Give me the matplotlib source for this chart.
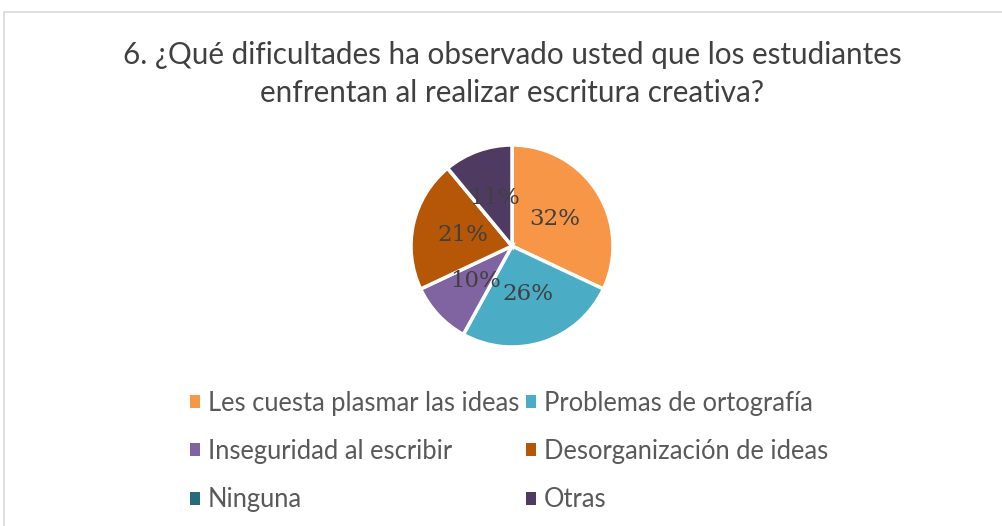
import matplotlib
matplotlib.use("Agg")
import matplotlib.pyplot as plt
from matplotlib.patches import Rectangle, Patch

categories = ["Les cuesta plasmar las ideas", "Problemas de ortografía",
              "Inseguridad al escribir", "Desorganización de ideas",
              "Ninguna", "Otras"]
values = [32, 26, 10, 21, 0, 11]
colors = ["#F79646", "#4BACC6", "#8064A2", "#B65708", "#276A7C", "#4F3B62"]
title = "6. ¿Qué dificultades ha observado usted que los estudiantes\nenfrentan al realizar escritura creativa?"

W, H = 1003, 526
fig = plt.figure(figsize=(W / 100, H / 100), dpi=100)
fig.patch.set_facecolor("white")

# chart border
fig.patches.append(Rectangle((4 / W, -0.1), 1.2, 1 - 12 / H + 0.1,
                             transform=fig.transFigure, fill=False,
                             edgecolor="#D9D9D9", linewidth=1.2))

cx, cy, r = 512, 246, 101
ax = fig.add_axes([(cx - r) / W, (H - cy - r) / H, 2 * r / W, 2 * r / H])

def fmt(p):
    return "" if p < 0.5 else f"{p:.0f}%"

wedges, texts, autotexts = ax.pie(values, colors=colors, startangle=90,
                                  counterclock=False, autopct=fmt,
                                  pctdistance=0.5,
                                  wedgeprops=dict(edgecolor="white", linewidth=2.5),
                                  textprops=dict(family="DejaVu Serif", fontsize=16.5,
                                                 color="#404040"))
ax.set_aspect("equal")
ax.set_xlim(-1.0, 1.0)
ax.set_ylim(-1.0, 1.0)

fig.text(512 / W, 1 - 74 / H, title, ha="center", va="center",
         fontsize=21.3, family="Lato", color="#404040", linespacing=1.42)

order = [0, 2, 4, 1, 3, 5]
handles = [Patch(facecolor=colors[i], edgecolor="none") for i in order]
labels = [categories[i] for i in order]
leg = fig.legend(handles, labels, ncol=2, loc="center",
                 bbox_to_anchor=(509 / W, 1 - 451.5 / H), frameon=False,
                 prop=dict(family="Lato", size=18.4), labelcolor="#595959",
                 handlelength=0.4, handleheight=0.4, handletextpad=0.3,
                 columnspacing=0.25, labelspacing=0.91)

fig.savefig("out.png", dpi=100)
